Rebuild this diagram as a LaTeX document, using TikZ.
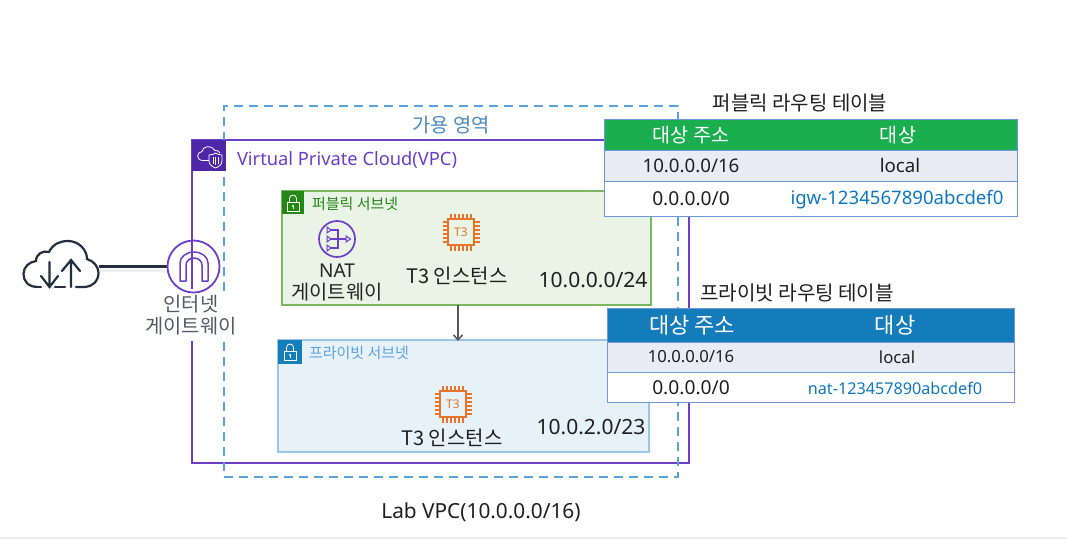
\documentclass[tikz,border=0pt]{standalone}
\usepackage{fontspec}
\setmainfont{Noto Sans}
\newfontfamily\kr{Noto Sans CJK KR}
\usetikzlibrary{arrows.meta}
\definecolor{azblue}{HTML}{5BA3DF}
\definecolor{vpc}{HTML}{6B3FC8}
\definecolor{vpcdark}{HTML}{4D27A8}
\definecolor{pubfill}{HTML}{E9F3E6}
\definecolor{publine}{HTML}{7DB661}
\definecolor{pubdark}{HTML}{248814}
\definecolor{prifill}{HTML}{E6F1F8}
\definecolor{priline}{HTML}{9DC5E8}
\definecolor{pridark}{HTML}{147EBA}
\definecolor{tblgreen}{HTML}{1AAE4E}
\definecolor{tblblue}{HTML}{157CBB}
\definecolor{tblrow}{HTML}{E9EBF5}
\definecolor{tblline}{HTML}{6F95DB}
\definecolor{linkblue}{HTML}{0F78C2}
\definecolor{ink}{HTML}{232F3E}
\definecolor{chip}{HTML}{E8742A}
\definecolor{graytxt}{HTML}{545B64}
\tikzset{
  every node/.style={outer sep=0pt},
  txt/.style={inner sep=0pt,font=\fontsize{#1}{#1}\selectfont,text=black!88},
  krt/.style={inner sep=0pt,font=\fontsize{#1}{#1}\selectfont\kr,text=black!88},
  cell/.style={draw=tblline,line width=1pt,minimum width=#1,inner sep=0pt,anchor=north west},
  box/.style={inner sep=0pt,anchor=north west},
  chiplead/.style={chip,line width=1.3pt},
  chippic/.pic={
    \draw[chip,line width=1.6pt] (-13,-13) rectangle (13,13);
    \foreach \k in {-10,-6,-2,2,6,10}{
      \draw[chiplead] (\k,-13) -- (\k,-18.5);
      \draw[chiplead] (\k,13) -- (\k,18.5);
      \draw[chiplead] (-13,\k) -- (-18.5,\k);
      \draw[chiplead] (13,\k) -- (18.5,\k);
    }
    \node[font=\fontsize{12}{12}\selectfont\bfseries,text=chip,inner sep=0pt] at (0,0) {T3};
  },
  lockpic/.pic={
    \draw[white,line width=.8pt] (-6,-1) rectangle (6,8);
    \draw[white,line width=.8pt] (-3.5,-1) -- (-3.5,-4.5) arc[start angle=180,end angle=360,radius=3.5] -- (3.5,-1);
    \fill[white] (0,3) circle (1.2);
    \draw[white,line width=.7pt] (0,3) -- (0,6);
  }
}
\begin{document}
\begin{tikzpicture}[x=1pt,y=-1pt]
\useasboundingbox (0,0) rectangle (1067,539);
\fill[white] (0,0) rectangle (1067,539);
\draw[black!7,line width=1.5pt] (0,538) -- (1067,538);

% availability zone and VPC
\node[box,draw=vpc,line width=2.5pt,minimum width=497pt,minimum height=323pt] (vpcbox) at (192,140) {};
\node[box,draw=azblue,line width=2.2pt,dash pattern=on 9pt off 6pt,minimum width=454pt,minimum height=371pt] (az) at (224,106) {};
\node[krt=19.8,text=azblue!85!black] (azlabel) at (451,125.5) {가용 영역};

% VPC tag
\node[box,fill=vpcdark,minimum width=34pt,minimum height=31pt] (vpctag) at (192,140) {};
\draw[white,line width=.8pt] (212,160.5) -- (203,160.5) .. controls (196,160.5) and (196,152) .. (202,151.5) .. controls (202,146) and (212,144.5) .. (215,150.5) .. controls (217,150) and (219,151) .. (220,153);
\draw[white,line width=.8pt,fill=vpcdark] (209,155) .. controls (212,155) and (214,154) .. (215.5,153) .. controls (217,154) and (219,155) .. (222,155) -- (222,161) .. controls (222,165) and (218,167) .. (215.5,168) .. controls (213,167) and (209,165) .. (209,161) -- cycle;
\draw[white,line width=.7pt] (213,157) -- (213,164) (215.5,157) -- (215.5,165) (218,157) -- (218,164);
\node[txt=18.3,text=vpc,anchor=west] (vpclabel) at (237,160) {Virtual Private Cloud(VPC)};

% public subnet
\node[box,draw=publine,line width=2.5pt,fill=pubfill,minimum width=369pt,minimum height=114pt] (pub) at (282,191) {};
\node[box,fill=pubdark,minimum width=22pt,minimum height=23pt] (pubtag) at (282,191) {};
\pic at (293,203) {lockpic};
\node[krt=15,text=pubdark,anchor=west] (publabel) at (312,204) {퍼블릭 서브넷};

% private subnet
\node[box,draw=priline,line width=2.5pt,fill=prifill,minimum width=371pt,minimum height=112pt] (pri) at (278,340) {};
\node[box,fill=pridark,minimum width=24pt,minimum height=24pt] (pritag) at (278,340) {};
\pic at (290,352) {lockpic};
\node[krt=15,text=azblue,anchor=west] (prilabel) at (309,353) {프라이빗 서브넷};

% subnet arrow
\draw[-{Straight Barb[length=5pt,width=9pt]},draw=black!65,line width=1.5pt] (pub.south -| 458,305) -- (458,341);

% NAT
\node[draw=vpc,line width=1.7pt,circle,minimum size=36pt,inner sep=0pt] (nat) at (337,239) {};
\draw[vpc,line width=1.2pt] (329,230) -- (338,230) -- (338,248) -- (329,248) (329,239) -- (350,239);
\draw[vpc,line width=1pt,fill=pubfill] (327,227) -- (331,230) -- (327,233) -- cycle (327,236) -- (331,239) -- (327,242) -- cycle (327,245) -- (331,248) -- (327,251) -- cycle (346,236) -- (350.5,239) -- (346,242) -- cycle;
\node[txt=19,text=black!85] (natlabel1) at (337,271) {NAT};
\node[krt=19.8,text=black!85] (natlabel2) at (337,292) {게이트웨이};

% instances
\pic at (461,232) {chippic};
\node[krt=20] (t3a) at (457,276) {T3 인스턴스};
\node[txt=21] (cidra) at (593,280) {10.0.0.0/24};
\pic at (453,404) {chippic};
\node[krt=20] (t3b) at (452,438) {T3 인스턴스};
\node[txt=21] (cidrb) at (591,427) {10.0.2.0/23};

% internet gateway label and circle
\node[fill=white,minimum width=94pt,minimum height=50pt,inner sep=0pt] (igwbg) at (190,316) {};
\node[krt=19.8,text=graytxt] (igw1) at (191,304.5) {인터넷};
\node[krt=19.8,text=graytxt] (igw2) at (191,326.5) {게이트웨이};
\coordinate (cloudr) at (98.5,266.5);
\draw[black!6,line width=3pt] (100,270) -- (166,270);
\node[circle,minimum size=52pt,inner sep=0pt,fill=white] (igw) at (193.5,266.5) {};
\draw[ink,line width=2.2pt] (cloudr) -- (igw.west);
\node[draw=vpc,line width=1.8pt,circle,minimum size=52pt,inner sep=0pt] (igwring) at (193.5,266.5) {};
\draw[vpc,line width=1.8pt] (192,240) -- (192,289);
\draw[vpc,line width=1.5pt,line join=round] (180,281) -- (180,263) arc[start angle=180,end angle=360,x radius=14,y radius=11] -- (208,281) -- (202,281) -- (202,265) arc[start angle=360,end angle=180,x radius=8,y radius=7] -- (186,281) -- cycle;

% internet cloud
\draw[ink,line width=2.2pt,line cap=round] (38,287) .. controls (28,287) and (23.5,281) .. (23.5,274) .. controls (23.5,267) and (29,262) .. (36,261) .. controls (36,254) and (43,250) .. (49,252) .. controls (53,244) and (60,241) .. (68,241) .. controls (79,241) and (87,250) .. (87,259) .. controls (94,261) and (98.5,267) .. (98.5,273) .. controls (98.5,281) and (92,287) .. (85,287) -- (76,287);
\draw[ink,line width=2.2pt,line cap=round] (38,287) -- (41,287) (55,287) -- (65,287);
\draw[ink,line width=2.2pt,line cap=round] (49.5,262) -- (49.5,287) (41,276) -- (49.5,287) -- (58,276);
\draw[ink,line width=2.2pt,line cap=round] (71,287) -- (71,260) (62,271) -- (71,260) -- (80,271);

% public route table
\node[krt=20] (pubtitle) at (800,103.5) {퍼블릭 라우팅 테이블};
\node[cell=413pt,minimum height=31pt,fill=tblgreen] (pubh) at (604,119) {};
\node[cell=413pt,minimum height=31pt,fill=tblrow] (pubr1) at (604,150) {};
\node[cell=413pt,minimum height=35pt,fill=white] (pubr2) at (604,181) {};
\node[krt=19.6,text=white] (pubh1) at (691,135) {대상 주소};
\node[krt=19.6,text=white] (pubh2) at (898,135) {대상};
\node[txt=18.7] (pub11) at (691,165.5) {10.0.0.0/16};
\node[txt=18.7] (pub12) at (900,165.5) {local};
\node[txt=19.2] (pub21) at (691,199) {0.0.0.0/0};
\node[txt=18.6,text=linkblue] (pub22) at (897,200) {igw-1234567890abcdef0};

% private route table
\node[krt=20.1] (prititle) at (797,292.5) {프라이빗 라우팅 테이블};
\node[cell=407pt,minimum height=34pt,fill=tblblue] (prih) at (607,308) {};
\node[cell=407pt,minimum height=30pt,fill=tblrow] (prir1) at (607,342) {};
\node[cell=407pt,minimum height=30pt,fill=white] (prir2) at (607,372) {};
\node[krt=22,text=white] (prih1) at (692,325) {대상 주소};
\node[krt=22,text=white] (prih2) at (895,325) {대상};
\node[txt=16.7] (pri11) at (691,357) {10.0.0.0/16};
\node[txt=16.7] (pri12) at (897,357) {local};
\node[txt=19.2] (pri21) at (691,388) {0.0.0.0/0};
\node[txt=16.2,text=linkblue] (pri22) at (895,388) {nat-123457890abcdef0};

% caption
\node[txt=20.8] (lab) at (481,512) {Lab VPC(10.0.0.0/16)};
\end{tikzpicture}
\end{document}
